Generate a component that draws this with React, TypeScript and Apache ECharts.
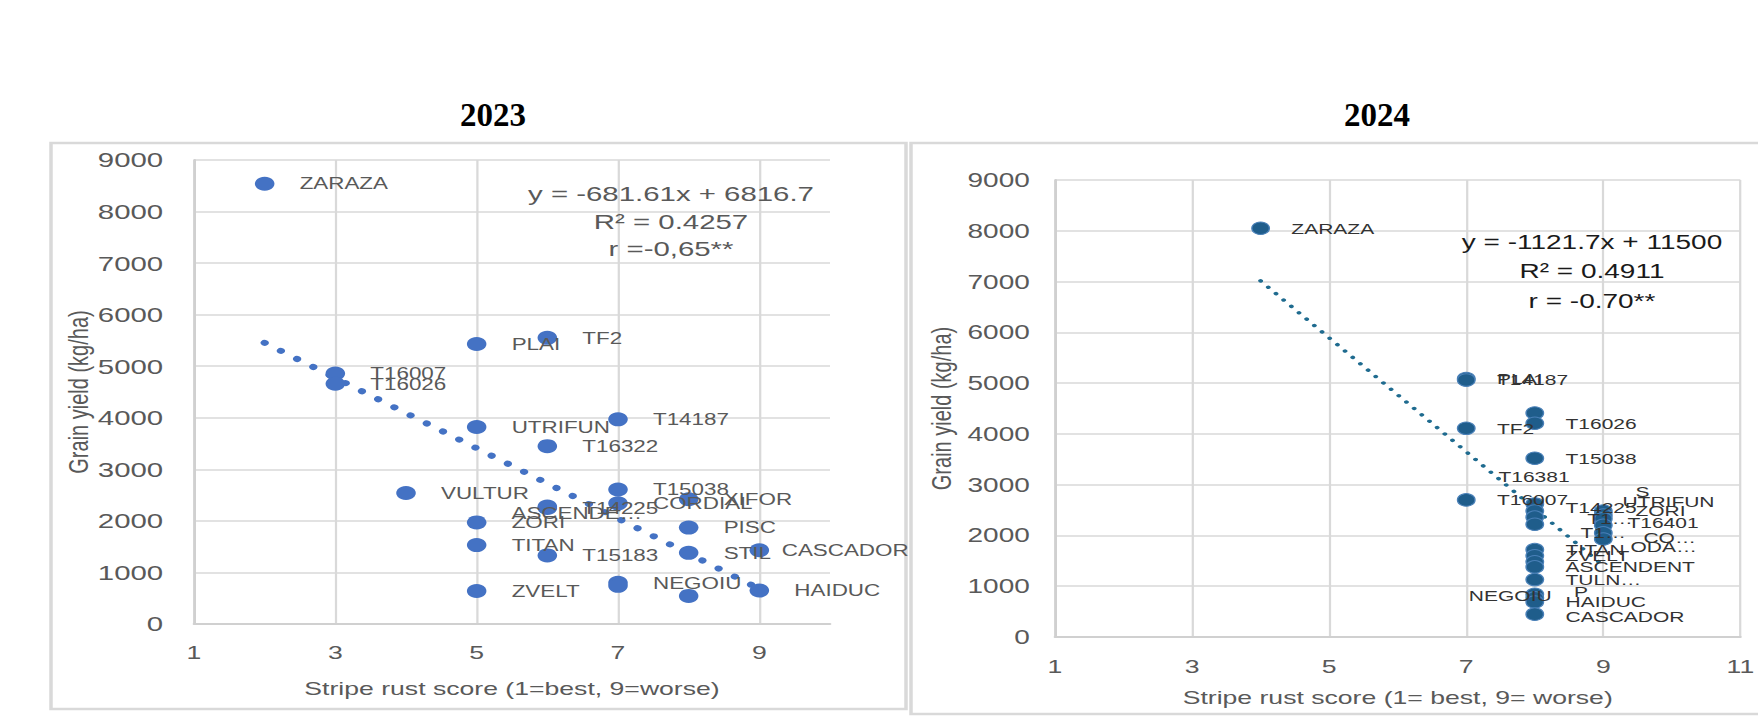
import React, { useEffect, useRef } from "react";
import * as echarts from "echarts";

// The reference picture is stretched horizontally; the chart is drawn narrower and stretched by CSS.
const SX = 1.4;
const PAGE_W = 1758;
const PAGE_H = 719;

// ---------- 2023 ----------
const names2023 = ["ZARAZA", "T16007", "T16026", "VULTUR", "PLAI", "UTRIFUN", "ZORI", "TITAN", "ZVELT", "TF2", "T16322", "T14225", "ASCENDE…", "T15183", "T14187", "T15038", "CORDIAL", "NEGOIU", "", "XIFOR", "PISC", "STIL", "", "CASCADOR", "HAIDUC"];
const score2023 = [2, 3, 3, 4, 5, 5, 5, 5, 5, 6, 6, 6, 6, 6, 7, 7, 7, 7, 7, 8, 8, 8, 8, 9, 9];
const yield2023 = [8540, 4860, 4660, 2540, 5430, 3820, 1970, 1530, 640, 5550, 3450, 2250, 2280, 1330, 3970, 2610, 2340, 800, 740, 2420, 1870, 1380, 545, 1430, 650];
const trend2023 = { slope: -681.61, intercept: 6816.7, from: 2, to: 9 };
const equation2023 = ["y = -681.61x + 6816.7", "R² = 0.4257", "r =-0,65**"];

// ---------- 2024 ----------
const names2024 = ["ZARAZA", "PLAI", "T14187", "TF2", "T16007", "", "T16026", "T15038", "T14225", "T16381", "T1…", "T1…", "TITAN", "ZVELT", "", "ASCENDENT", "TULN…", "P", "NEGOIU", "HAIDUC", "CASCADOR", "S", "UTRIFUN", "ZORI", "T16401", "CO…", "ODA…"];
const score2024 = [4, 7, 7, 7, 7, 8, 8, 8, 8, 8, 8, 8, 8, 8, 8, 8, 8, 8, 8, 8, 8, 9, 9, 9, 9, 9, 9];
const yield2024 = [8050, 5090, 5060, 4110, 2700, 4410, 4210, 3520, 2620, 2480, 2360, 2220, 1720, 1600, 1480, 1380, 1130, 840, 770, 690, 450, 2480, 2400, 2330, 2200, 2050, 1930];
const trend2024 = { slope: -1121.7, intercept: 11500, from: 4, to: 9 };
const equation2024 = ["y = -1121.7x + 11500", "R² = 0.4911", "r = -0.70**"];

const titles = ["2023", "2024"];
const xTitles = ["Stripe rust score (1=best, 9=worse)", "Stripe rust score (1= best, 9= worse)"];
const yTitle = "Grain yield (kg/ha)";

// label nudges (styling only): index -> [dx, dy, position]
const labelNudge2023: Record<number, [number, number, string?]> = {
  12: [-50.6, 7],
  23: [-9, 0],
};
const labelNudge2024: Record<number, [number, number, string?]> = {
  8: [0, 3.8],
  9: [-47.9, -34],
  10: [15.5, 1.6],
  11: [10.7, 8.5],
  17: [6, -2.7],
  18: [34, -2, "left"],
  20: [0, 3],
  21: [1, -19.6],
  22: [-8.3, -13.7],
  23: [1, -8.2],
  24: [-4.7, -2.8],
  25: [6.7, 4.6],
  26: [-2.6, 7.5],
};

const u = (fullX: number) => fullX / SX;

function scatterData(names: string[], xs: number[], ys: number[], nudge: Record<number, [number, number, string?]>) {
  return xs.map((x, i) => {
    const n = nudge[i];
    const item: any = { name: names[i], value: [x, ys[i]] };
    if (n && n[2]) item.label = { position: n[2] };
    return item;
  });
}

function layoutFor(nudge: Record<number, [number, number, string?]>) {
  return (p: any) => {
    const n = nudge[p.dataIndex];
    return { hideOverlap: false, dx: n ? n[0] : 0, dy: n ? n[1] : 0 };
  };
}

function trendData(t: { slope: number; intercept: number; from: number; to: number }) {
  return [t.from, t.to].map((x) => [x, t.slope * x + t.intercept]);
}

export default function App() {
  const ref = useRef<HTMLDivElement>(null);

  useEffect(() => {
    if (!ref.current) return;
    const chart = echarts.init(ref.current, null, { renderer: "svg" });
    const gray = "#595959";
    const gridColor = "#d9d9d9";
    const font = "Liberation Sans";

    const axisCommonY = (labelSize: number, margin: number, nameGap: number) => ({
      type: "value" as const,
      min: 0,
      max: 9000,
      interval: 1000,
      name: yTitle,
      nameLocation: "middle" as const,
      nameGap,
      nameTextStyle: { color: gray, fontSize: 20, fontFamily: font },
      axisLine: { show: true, lineStyle: { color: "#d0d0d0", width: 2 } },
      axisTick: { show: false },
      axisLabel: { color: gray, fontSize: labelSize, fontFamily: font, margin, formatter: (v: number) => String(v) },
      splitLine: { show: true, lineStyle: { color: gridColor, width: 1.6 } },
    });

    const option: any = {
      animation: false,
      backgroundColor: "#ffffff",
      textStyle: { fontFamily: font },
      grid: [
        { left: u(194), top: 160, width: u(830) - u(194), height: 464 },
        { left: u(1055), top: 180, width: u(1741) - u(1055), height: 457 },
      ],
      xAxis: [
        {
          gridIndex: 0,
          type: "value",
          min: 1,
          max: 10,
          interval: 2,
          name: xTitles[0],
          nameLocation: "middle",
          nameGap: 55,
          nameTextStyle: { color: gray, fontSize: 19, fontFamily: font },
          axisLine: { show: true, onZero: false, lineStyle: { color: "#d0d0d0", width: 2 } },
          axisTick: { show: false },
          axisLabel: { color: gray, fontSize: 19, fontFamily: font, margin: 19, showMaxLabel: false, formatter: (v: number) => String(v) },
          splitLine: { show: true, showMaxLine: false, lineStyle: { color: gridColor, width: 1.6 } },
        },
        {
          gridIndex: 1,
          type: "value",
          min: 1,
          max: 11,
          interval: 2,
          name: xTitles[1],
          nameLocation: "middle",
          nameGap: 51,
          nameTextStyle: { color: gray, fontSize: 19, fontFamily: font },
          axisLine: { show: true, onZero: false, lineStyle: { color: "#d0d0d0", width: 2 } },
          axisTick: { show: false },
          axisLabel: { color: gray, fontSize: 19, fontFamily: font, margin: 20, formatter: (v: number) => String(v) },
          splitLine: { show: true, lineStyle: { color: gridColor, width: 1.6 } },
        },
      ],
      yAxis: [
        { gridIndex: 0, ...axisCommonY(21, 22, 66) },
        { gridIndex: 1, ...axisCommonY(20, 18, 71) },
      ],
      graphic: [
        {
          type: "rect",
          shape: { x: u(51), y: 143, width: u(906) - u(51), height: 566 },
          style: { fill: "none", stroke: "#d9d9d9", lineWidth: 2.5 },
          z: 0,
        },
        {
          type: "rect",
          shape: { x: u(911), y: 143, width: u(1800) - u(911), height: 571 },
          style: { fill: "none", stroke: "#d9d9d9", lineWidth: 2.5 },
          z: 0,
        },
        {
          type: "text",
          x: u(493),
          y: 115,
          scaleX: 1 / SX,
          style: { text: titles[0], fill: "#000", font: "bold 33px 'Liberation Serif'", textAlign: "center", textVerticalAlign: "middle" },
        },
        {
          type: "text",
          x: u(1377),
          y: 115,
          scaleX: 1 / SX,
          style: { text: titles[1], fill: "#000", font: "bold 33px 'Liberation Serif'", textAlign: "center", textVerticalAlign: "middle" },
        },
        ...equation2023.map((t, i) => ({
          type: "text",
          x: u(671),
          y: 194 + i * 27.5,
          z: 10,
          style: { text: t, fill: gray, font: `21px '${font}'`, textAlign: "center", textVerticalAlign: "middle" },
        })),
        ...equation2024.map((t, i) => ({
          type: "text",
          x: u(1592),
          y: 242 + i * 29.5,
          z: 10,
          style: { text: t, fill: "#1a1a1a", font: `20px '${font}'`, textAlign: "center", textVerticalAlign: "middle" },
        })),
      ],
      series: [
        {
          type: "line",
          xAxisIndex: 0,
          yAxisIndex: 0,
          data: trendData(trend2023),
          symbol: "none",
          z: 1,
          silent: true,
          lineStyle: { color: "#4472C4", width: 6, type: [0.01, 14.1], cap: "round" },
        },
        {
          type: "scatter",
          xAxisIndex: 0,
          yAxisIndex: 0,
          symbolSize: 14,
          z: 2,
          itemStyle: { color: "#4472C4", opacity: 1 },
          label: { show: true, position: "right", distance: 18, formatter: "{b}", color: gray, fontSize: 16, fontFamily: font },
          labelLayout: layoutFor(labelNudge2023),
          data: scatterData(names2023, score2023, yield2023, labelNudge2023),
        },
        {
          type: "line",
          xAxisIndex: 1,
          yAxisIndex: 1,
          data: trendData(trend2024),
          symbol: "none",
          z: 1,
          silent: true,
          lineStyle: { color: "#1f6b8f", width: 3.4, type: [0.01, 8.4], cap: "round" },
        },
        {
          type: "scatter",
          xAxisIndex: 1,
          yAxisIndex: 1,
          symbolSize: 12.5,
          z: 2,
          itemStyle: { color: "#1f5d8b", borderColor: "#4a80b8", borderWidth: 1, opacity: 1 },
          label: { show: true, position: "right", distance: 15.2, formatter: "{b}", color: "#333333", fontSize: 15, fontFamily: font },
          labelLayout: layoutFor(labelNudge2024),
          data: scatterData(names2024, score2024, yield2024, labelNudge2024),
        },
      ],
    };

    chart.setOption(option);
    return () => chart.dispose();
  }, []);

  return (
    <div style={{ position: "fixed", left: 0, top: 0, width: PAGE_W, height: PAGE_H, overflow: "hidden", background: "#ffffff" }}>
      <div
        ref={ref}
        style={{ width: PAGE_W / SX, height: PAGE_H, transform: `scaleX(${SX})`, transformOrigin: "0 0" }}
      />
    </div>
  );
}
